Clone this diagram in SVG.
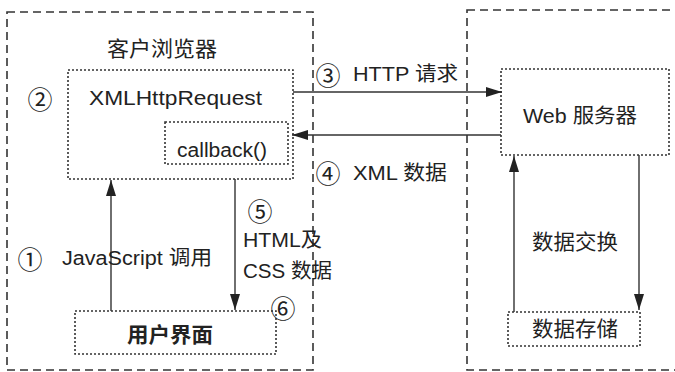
<svg xmlns="http://www.w3.org/2000/svg" width="675" height="372" viewBox="0 0 675 372">
  <style>
    .zone { fill: none; stroke: #333; stroke-width: 1.6; stroke-dasharray: 8 5; }
    .box { fill: none; stroke: #333; stroke-width: 1.6; stroke-dasharray: 2 2; }
    .edge { fill: none; stroke: #333; stroke-width: 1.4; }
    text { font-family: "Liberation Sans", "Noto Sans CJK SC", sans-serif; fill: #222; font-size: 20px; }
    .cn { font-size: 21px; }
    .num { font-family: "Noto Sans CJK SC", sans-serif; font-size: 25px; text-anchor: middle; dominant-baseline: central; }
  </style>
  <defs>
    <marker id="arrow" viewBox="0 0 16 10" refX="16" refY="5" markerWidth="16" markerHeight="10" markerUnits="userSpaceOnUse" orient="auto">
      <path d="M0,0 L16,5 L0,10 Z" fill="#222"/>
    </marker>
  </defs>

  <!-- client and server zones -->
  <rect class="zone" x="7" y="12" width="306" height="358"/>
  <rect class="zone" x="467" y="10" width="220" height="360"/>

  <g id="browser-label">
    <text x="162" y="56" text-anchor="middle" class="cn" textLength="110" lengthAdjust="spacingAndGlyphs">客户浏览器</text>
  </g>

  <g id="xhr">
    <rect class="box" x="68" y="70" width="225" height="109"/>
    <text x="89" y="105" font-size="22" textLength="173" lengthAdjust="spacingAndGlyphs">XMLHttpRequest</text>
    <text x="40" y="98" class="num">②</text>
  </g>

  <g id="callback">
    <rect class="box" x="165" y="122" width="123" height="42"/>
    <text x="177" y="157" font-size="21" textLength="90" lengthAdjust="spacingAndGlyphs">callback()</text>
  </g>

  <g id="ui">
    <rect class="box" x="75" y="311" width="201" height="43"/>
    <text x="127" y="342" class="cn" font-weight="bold" textLength="86" lengthAdjust="spacingAndGlyphs">用户界面</text>
    <text x="283" y="307" class="num">⑥</text>
  </g>

  <g id="server">
    <rect class="box" x="501" y="69" width="168" height="86"/>
    <text x="523" y="123" font-size="21" textLength="114" lengthAdjust="spacingAndGlyphs">Web 服务器</text>
  </g>

  <g id="storage">
    <rect class="box" x="508" y="312" width="132" height="34"/>
    <text x="532" y="336" class="cn" textLength="86" lengthAdjust="spacingAndGlyphs">数据存储</text>
  </g>

  <g id="connectors">
    <line class="edge" x1="293" y1="92" x2="502" y2="92" marker-end="url(#arrow)"/>
    <line class="edge" x1="501" y1="135" x2="292" y2="135" marker-end="url(#arrow)"/>
    <line class="edge" x1="111" y1="311" x2="111" y2="180" marker-end="url(#arrow)"/>
    <line class="edge" x1="235" y1="179" x2="235" y2="310" marker-end="url(#arrow)"/>
    <line class="edge" x1="514" y1="312" x2="514" y2="156" marker-end="url(#arrow)"/>
    <line class="edge" x1="639" y1="155" x2="639" y2="310" marker-end="url(#arrow)"/>
  </g>

  <g id="labels">
    <text x="328" y="74" class="num">③</text>
    <text x="353" y="81" textLength="105" lengthAdjust="spacingAndGlyphs">HTTP 请求</text>
    <text x="328" y="172" class="num">④</text>
    <text x="353" y="180" textLength="94" lengthAdjust="spacingAndGlyphs">XML 数据</text>
    <text x="260" y="210" class="num">⑤</text>
    <text x="243" y="247" textLength="79" lengthAdjust="spacingAndGlyphs">HTML及</text>
    <text x="243" y="278" textLength="89" lengthAdjust="spacingAndGlyphs">CSS 数据</text>
    <text x="30" y="258" class="num">①</text>
    <text x="62" y="265" font-size="21" textLength="150" lengthAdjust="spacingAndGlyphs">JavaScript 调用</text>
    <text x="532" y="249" class="cn" textLength="86" lengthAdjust="spacingAndGlyphs">数据交换</text>
  </g>
</svg>
